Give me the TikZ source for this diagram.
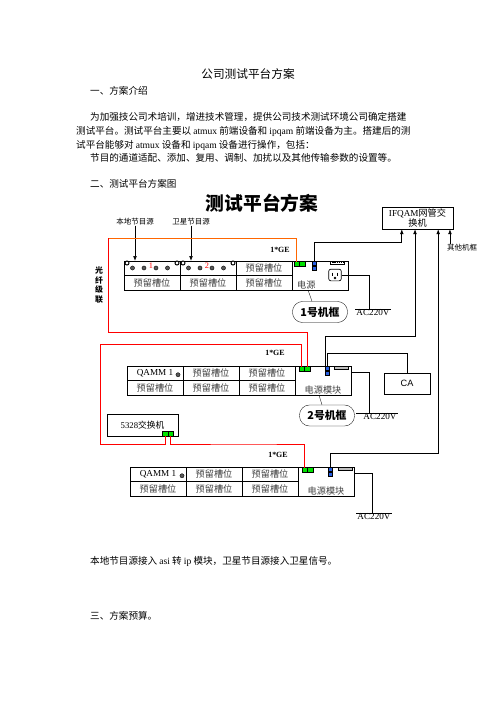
\documentclass[tikz,border=0pt]{standalone}
\usepackage{fontspec}
\setmainfont{Liberation Serif}
\newfontfamily\cjk{Noto Sans CJK SC}
\newfontfamily\arial{Liberation Sans}
\usetikzlibrary{positioning,calc,arrows.meta}
\definecolor{fibreorange}{RGB}{255,102,0}
\definecolor{portg}{RGB}{0,225,0}
\definecolor{portb}{RGB}{40,95,225}
\newcommand{\enw}[1]{{\rmfamily #1}}
\tikzstyle{body} = [font=\cjk\fontsize{11.5}{13}\selectfont,inner sep=0,anchor=west]
\tikzstyle{lbl} = [font=\cjk\fontsize{9}{10}\selectfont,inner sep=0]
\tikzstyle{slot} = [draw,rectangle,minimum width=67.2pt,minimum height=17.4pt,inner sep=0,outer sep=0,font=\cjk\fontsize{11}{12}\selectfont,text=darkgray]
\tikzstyle{qamm} = [slot,text=black,font=\rmfamily\fontsize{11}{12}\selectfont]
\tikzstyle{psu} = [draw,rectangle,minimum width=67.2pt,minimum height=34.8pt,inner sep=0,outer sep=0]
\tikzstyle{gtext} = [font=\cjk\fontsize{11}{12}\selectfont,text=darkgray,inner sep=0]
\tikzstyle{gport} = [draw,fill=portg,minimum width=6.6pt,minimum height=6pt,inner sep=0,outer sep=0]
\tikzstyle{bport} = [draw,fill=portb,minimum width=5.4pt,minimum height=4.8pt,inner sep=0,outer sep=0]
\tikzstyle{strip} = [draw,fill=lightgray,minimum width=16.8pt,minimum height=3pt,inner sep=0,outer sep=0]
\tikzstyle{screw} = [draw,very thick,circle,fill=white,inner sep=0,minimum size=4.8pt]
\tikzstyle{led} = [draw,circle,fill=black!65,inner sep=0,minimum size=5pt]
\tikzstyle{outlet} = [draw,thick,rounded corners=2.5pt,minimum width=15pt,minimum height=14pt,inner sep=0]
\tikzstyle{tag} = [draw,thin,rounded corners=12pt,minimum width=66pt,minimum height=25.2pt,font=\cjk\bfseries\fontsize{13}{15}\selectfont]
\tikzstyle{box} = [draw,rectangle,minimum width=85.2pt,minimum height=26.4pt,inner sep=1pt,align=center,font=\cjk\fontsize{11}{12.5}\selectfont]
\tikzstyle{cabox} = [draw,rectangle,minimum width=55.2pt,minimum height=25.2pt,font=\arial\fontsize{11}{12}\selectfont]
\tikzstyle{acin} = [font=\rmfamily\fontsize{11}{12}\selectfont,inner sep=1pt]
\tikzstyle{ge} = [font=\rmfamily\bfseries\fontsize{9.5}{10}\selectfont,inner sep=0]
\tikzstyle{link} = [line width=0.8pt]
\tikzstyle{feed} = [link,-{Latex[length=6pt,width=4.5pt]}]
\tikzstyle{fibreline} = [line width=0.8pt,red]

\begin{document}
\begin{tikzpicture}[x=1.2pt,y=-1.2pt]
\useasboundingbox[fill=white] (0,0) rectangle (496,702);

% document text
\node[font=\cjk\fontsize{14}{16}\selectfont] (title) at (248,74) {公司测试平台方案};
\node[body] (h1) at (90,91) {一、方案介绍};
\node[body] (l1) at (90,117) {为加强技公司术培训，增进技术管理，提供公司技术测试环境公司确定搭建};
\node[body] (l2) at (76,131) {测试平台。测试平台主要以 \enw{atmux} 前端设备和 \enw{ipqam} 前端设备为主。搭建后的测};
\node[body] (l3) at (76,145) {试平台能够对 \enw{atmux} 设备和 \enw{ipqam} 设备进行操作，包括：};
\node[body] (l4) at (90,158) {节目的通道适配、添加、复用、调制、加扰以及其他传输参数的设置等。};
\node[body] (h2) at (90,184) {二、测试平台方案图};
\node[font=\cjk\bfseries\fontsize{22.5}{24}\selectfont] (dtitle) at (262,203) {测试平台方案};

% sources
\node[lbl] (src1) at (135,222) {本地节目源};
\node[lbl] (src2) at (191,222) {卫星节目源};

% rack 1
\node[slot,anchor=north west] (r1a) at (124,261) {};
\node[slot,right=0pt of r1a] (r1b) {};
\node[slot,right=0pt of r1b] (r1c) {预留槽位};
\node[slot,below=0pt of r1a] (r1d) {预留槽位};
\node[slot,below=0pt of r1b] (r1e) {预留槽位};
\node[slot,below=0pt of r1c] (r1f) {预留槽位};
\node[psu,anchor=north west] (p1) at (r1c.north east) {};
\foreach \c/\n in {r1a/1,r1b/2}{
  \node[screw] (\c-sl) at ($(\c.north west)+(3,2)$) {};
  \node[screw] (\c-sr) at ($(\c.north east)+(-3,2)$) {};
  \foreach \x [count=\i] in {8.5,20,32,43.5}
    \node[led] (\c-d\i) at ($(\c.north west)+(\x,7)$) {};
  \node[font=\rmfamily\fontsize{10}{10}\selectfont,text=red,inner sep=0] (\c-n) at ($(\c.north west)+(27,5)$) {\n};
}
\node[gport,anchor=north west] (g1a) at ($(p1.north west)+(2,0.5)$) {};
\node[gport,right=0pt of g1a] (g1b) {};
\node[bport,anchor=north west] (b1a) at ($(p1.north west)+(20,0.5)$) {};
\node[bport,below=0.6pt of b1a] (b1b) {};
\node[strip,fill=white,anchor=north west] (st1) at ($(p1.north west)+(38,0.5)$) {};
\draw[densely dotted,line width=1.6pt] (st1.west) -- (st1.east);
\node[outlet] (ac1) at ($(p1.north west)+(43,14)$) {};
\draw[thick] ($(ac1.center)+(-2.5,-2.5)$) -- ++(0,3.5);
\draw[thick] ($(ac1.center)+(2.5,-2.5)$) -- ++(0,3.5);
\draw[thick] ($(ac1.center)+(0,3)$) circle (1pt);
\node[gtext,anchor=south west] (p1t) at ($(p1.south west)+(5,-1)$) {电源};
\node[tag] (ov1) at (320,312) {1号机框};
\draw[thin] ($(ov1.north)+(-8,0)$) -- ($(p1.south)+(-12,0)$);
\node[acin] (acv1) at (373,313) {AC220V};
\draw[link] (acv1.north west) -- (acv1.north east);
\draw[link] (ac1.east) -| ($(acv1.north)+(-4,0)$);
\node[ge] (ge1) at (280,250) {1*GE};
\draw[feed] (src1.south) -- (src1.south |- r1a.north);
\draw[feed] (src2.south) -- (src2.south |- r1b.north);

% management switch
\node[box] (ifq) at (417.5,218) {\enw{IFQAM}网管交\\换机};
\node[lbl] (oth) at (462,248) {其他机框};
\coordinate (i1) at ($(ifq.south west)!0.28!(ifq.south east)$);
\coordinate (i2) at ($(ifq.south west)!0.465!(ifq.south east)$);
\coordinate (i3) at ($(ifq.south west)!0.79!(ifq.south east)$);
\coordinate (i4) at ($(ifq.south west)!0.955!(ifq.south east)$);
\coordinate (y1) at (0,242);
\draw[feed] (b1a.north) |- (i1 |- y1) -- (i1);
\draw[feed] (oth.north -| i4) -- (i4);

% fibre cascade
\node[font=\cjk\bfseries\fontsize{9.5}{11.6}\selectfont,align=center,inner sep=0] (fiber) at (99,285) {光\\纤\\级\\联};

% rack 2
\node[qamm,anchor=north west] (r2a) at (127,366) {QAMM 1};
\node[slot,right=0pt of r2a] (r2b) {预留槽位};
\node[slot,right=0pt of r2b] (r2c) {预留槽位};
\node[slot,below=0pt of r2a] (r2d) {预留槽位};
\node[slot,below=0pt of r2b] (r2e) {预留槽位};
\node[slot,below=0pt of r2c] (r2f) {预留槽位};
\node[led] (r2a-d) at ($(r2a.east)+(-5,1.5)$) {};
\node[psu,anchor=north west] (p2) at (r2c.north east) {};
\node[gport,anchor=north west] (g2a) at ($(p2.north west)+(4,0.5)$) {};
\node[gport,right=0pt of g2a] (g2b) {};
\node[bport,anchor=north west] (b2a) at ($(p2.north west)+(30,0.5)$) {};
\node[bport,below=0.6pt of b2a] (b2b) {};
\node[strip,anchor=north west] (st2) at ($(p2.north west)+(39,0.5)$) {};
\node[gtext,anchor=south] (p2t) at ($(p2.south)+(0,-1)$) {电源模块};
\node[tag] (ov2) at (327,415.5) {2号机框};
\draw[thin] ($(ov2.north)+(-5,0)$) -- ($(p2.south)+(-4,0)$);
\node[acin] (acv2) at (380,417) {AC220V};
\draw[link] ($(acv2.north west)+(-6,0)$) -- (acv2.north east);
\draw[link] ($(p2.north east)+(0,6)$) -| ($(acv2.north)+(-11,0)$);
\node[ge] (ge2) at (275,353) {1*GE};
\node[cabox] (ca) at (407,383.5) {CA};
\coordinate (y2) at (0,336);
\coordinate (y3) at (0,353);
\draw[feed] (b2a.north west) |- (i2 |- y2) -- (i2);
\draw[link] (b2a.north) |- (ca.north |- y3) -- (ca.north);

% 5328 switch
\node[box,font=\cjk\fontsize{10.5}{12}\selectfont] (sw) at (142.5,425) {\enw{5328}交换机};
\node[gport,anchor=south east] (s2) at ($(sw.south east)+(-5,0)$) {};
\node[gport,left=0pt of s2] (s1) {};

% rack 3
\node[qamm,anchor=north west] (r3a) at (130,467) {QAMM 1};
\node[slot,right=0pt of r3a] (r3b) {预留槽位};
\node[slot,right=0pt of r3b] (r3c) {预留槽位};
\node[slot,below=0pt of r3a] (r3d) {预留槽位};
\node[slot,below=0pt of r3b] (r3e) {预留槽位};
\node[slot,below=0pt of r3c] (r3f) {预留槽位};
\node[led] (r3a-d) at ($(r3a.east)+(-4,1.5)$) {};
\node[psu,anchor=north west] (p3) at (r3c.north east) {};
\node[gport,anchor=north west] (g3a) at ($(p3.north west)+(4,0.5)$) {};
\node[gport,right=0pt of g3a] (g3b) {};
\node[bport,anchor=north west] (b3a) at ($(p3.north west)+(30,0.5)$) {};
\node[bport,below=0.6pt of b3a] (b3b) {};
\node[strip,anchor=north west] (st3) at ($(p3.north west)+(40,0.5)$) {};
\node[gtext,anchor=south] (p3t) at ($(p3.south)+(0,-1)$) {电源模块};
\node[acin] (acv3) at (374,517) {AC220V};
\draw[link] (acv3.north west) -- (acv3.north east);
\draw[link] ($(p3.north east)+(0,6)$) -| ($(acv3.north)+(-2,0)$);
\node[ge] (ge3) at (278,455) {1*GE};
\coordinate (y4) at (0,453);
\draw[feed] (b3a.north) |- (i3 |- y4) -- (i3);

% fibre links
\coordinate (f1) at (108,238);
\coordinate (f2) at (108,332);
\coordinate (f3) at (100,344);
\coordinate (f4) at (100,444);
\coordinate (f5) at (250,444);
\draw[fibreline,fibreorange] (g1a.north) |- (f1);
\draw[fibreline] (f1) -- (f2) -| (g2b.north);
\draw[fibreline] (s1.south) |- (f4) -- (f3) -| (g2a.north);
\draw[fibreline] (s2.south) |- (f5) -| (g3a.north);

% closing text
\node[body] (l5) at (90,561) {本地节目源接入 \enw{asi} 转 \enw{ip} 模块，卫星节目源接入卫星信号。};
\node[body] (h3) at (90,616) {三、方案预算。};
\end{tikzpicture}
\end{document}
